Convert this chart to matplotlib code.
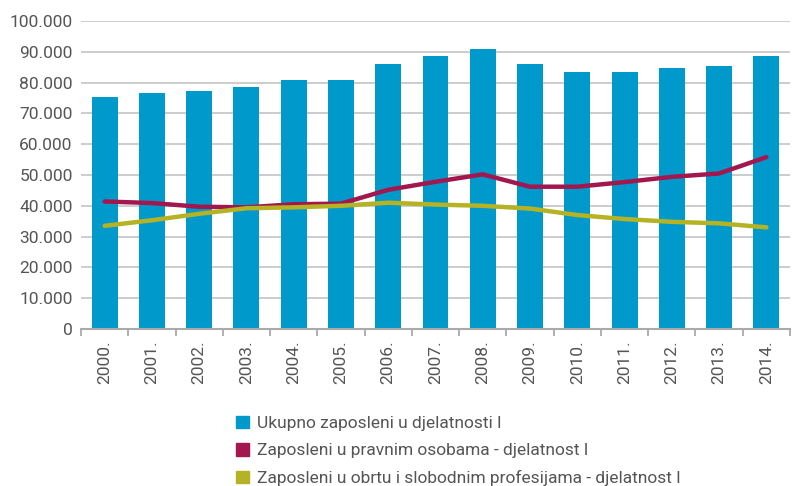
import numpy as np
import matplotlib.pyplot as plt
from matplotlib.patches import Patch
from matplotlib.ticker import FuncFormatter

# Data
years = ['2000.', '2001.', '2002.', '2003.', '2004.', '2005.', '2006.', '2007.',
         '2008.', '2009.', '2010.', '2011.', '2012.', '2013.', '2014.']
ukupno = [75300, 76600, 77300, 78600, 80800, 80800, 86000, 88600,
          90900, 86000, 83400, 83400, 84700, 85400, 88600]
pravne = [41400, 40900, 39700, 39500, 40500, 40700, 45200, 47800,
          50200, 46200, 46200, 47700, 49400, 50500, 55800]
obrt = [33500, 35300, 37400, 39200, 39500, 40000, 41000, 40400,
        40000, 39100, 37000, 35700, 34800, 34300, 33000]

labels = ['Ukupno zaposleni u djelatnosti I',
          'Zaposleni u pravnim osobama - djelatnost I',
          'Zaposleni u obrtu i slobodnim profesijama - djelatnost I']

blue = '#0099cc'
red = '#a3174f'
olive = '#b5b324'
text_gray = '#555555'

plt.rcParams['font.family'] = ['Roboto', 'DejaVu Sans']

fig = plt.figure(figsize=(7.92, 4.86), dpi=100)
ax = fig.add_axes([81 / 792, 1 - 329 / 486, 709 / 792, 308 / 486])

x = np.arange(len(years))
ax.bar(x, ukupno, width=0.55, color=blue, zorder=2)
ax.plot(x, pravne, color=red, lw=3.2, solid_capstyle='round', zorder=3)
ax.plot(x, obrt, color=olive, lw=3.2, solid_capstyle='round', zorder=3)

ax.set_xlim(-0.5, len(years) - 0.5)
ax.set_ylim(0, 100000)
ax.set_yticks(np.arange(0, 100001, 10000))
ax.yaxis.set_major_formatter(FuncFormatter(lambda v, p: f'{int(v):,}'.replace(',', '.')))
ax.grid(axis='y', color='#c8c8c8', lw=1.3, zorder=0)

# category labels, tick marks between categories
ax.set_xticks(x)
ax.set_xticklabels(years, rotation=90)
ax.set_xticks(np.arange(-0.5, len(years), 1), minor=True)
ax.tick_params(axis='x', which='major', length=0, pad=8, labelsize=12.5, labelcolor=text_gray)
ax.tick_params(axis='x', which='minor', length=5, width=1.3, color='#aaaaaa')
ax.tick_params(axis='y', length=0, pad=6, labelsize=12.5, labelcolor=text_gray)

for side in ['top', 'right', 'left']:
    ax.spines[side].set_visible(False)
ax.spines['bottom'].set_color('#aaaaaa')
ax.spines['bottom'].set_linewidth(1.5)

handles = [Patch(color=blue), Patch(color=red), Patch(color=olive)]
fig.legend(handles, labels, loc='upper left', bbox_to_anchor=(220 / 792, 1 - 400 / 486),
           frameon=False, fontsize=12.5, labelcolor=text_gray,
           handlelength=0.75, handleheight=0.75, handletextpad=0.5, labelspacing=0.68)

plt.savefig('out.png', dpi=100)
